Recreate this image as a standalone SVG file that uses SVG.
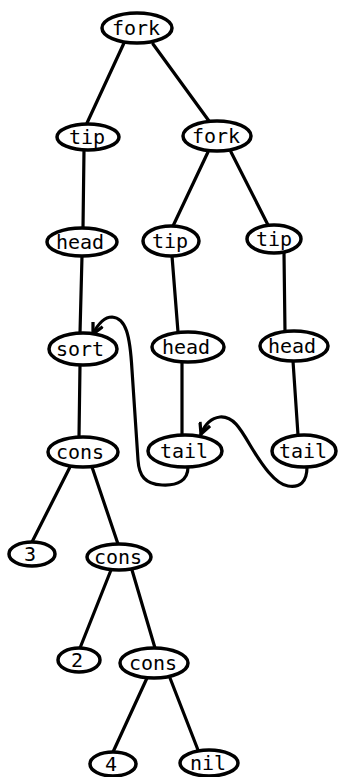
<svg xmlns="http://www.w3.org/2000/svg" width="339" height="777" viewBox="0 0 339 777">
<style>
.n ellipse{fill:#fff;stroke:#000;stroke-width:3.5}
.n text{font-family:"DejaVu Sans Mono","Liberation Mono",monospace;font-size:20px;text-anchor:middle;fill:#000}
.e line,.e path{stroke:#000;stroke-width:3.2;fill:none;stroke-linecap:round}
</style>
<defs>
<marker id="ah" viewBox="0 0 12 12" refX="11" refY="6" markerWidth="13" markerHeight="13" markerUnits="userSpaceOnUse" orient="auto">
<path d="M1,1 L11,6 L1,11" fill="none" stroke="#000" stroke-width="3"/>
</marker>
</defs>
<g class="e" id="connectors">
<line x1="124" y1="43" x2="87" y2="123"/>
<line x1="153" y1="44" x2="209" y2="121"/>
<line x1="84" y1="150" x2="83" y2="228"/>
<line x1="208" y1="152" x2="173" y2="226"/>
<line x1="231" y1="152" x2="268" y2="225"/>
<line x1="82" y1="256" x2="80" y2="333"/>
<line x1="172" y1="256" x2="178" y2="332"/>
<line x1="284" y1="253" x2="285" y2="332"/>
<line x1="80" y1="365" x2="79" y2="437"/>
<line x1="182" y1="362" x2="182" y2="435"/>
<line x1="293" y1="361" x2="298" y2="435"/>
<line x1="70" y1="467" x2="32" y2="542"/>
<line x1="92" y1="467" x2="118" y2="544"/>
<line x1="111" y1="570" x2="80" y2="648"/>
<line x1="132" y1="570" x2="155" y2="648"/>
<line x1="147" y1="678" x2="113" y2="752"/>
<line x1="170" y1="678" x2="198" y2="750"/>
<path d="M188,467 C188,480 178,486 162,485 C145,484 139,476 138,460 L132,370 C130,335 126,318 112,317 C104,317 98,324 93,334" marker-end="url(#ah)"/>
<path d="M307,467 C307,482 300,488 288,486 C275,484 262,465 250,445 C240,428 233,416 220,417 C212,418 205,424 201,434" marker-end="url(#ah)"/>
</g>
<g class="n" id="n-fork1"><ellipse cx="137" cy="28" rx="35" ry="15"/><text x="136" y="35">fork</text></g>
<g class="n" id="n-tip1"><ellipse cx="88" cy="137" rx="31" ry="13"/><text x="87" y="144">tip</text></g>
<g class="n" id="n-fork2"><ellipse cx="217" cy="136" rx="34" ry="15"/><text x="216" y="143">fork</text></g>
<g class="n" id="n-head1"><ellipse cx="82" cy="242" rx="35" ry="14"/><text x="80" y="249">head</text></g>
<g class="n" id="n-tip2"><ellipse cx="171" cy="241" rx="28" ry="15"/><text x="170" y="248">tip</text></g>
<g class="n" id="n-tip3"><ellipse cx="274" cy="239" rx="27" ry="14"/><text x="274" y="246">tip</text></g>
<g class="n" id="n-sort"><ellipse cx="83" cy="349" rx="34" ry="16"/><text x="80" y="356">sort</text></g>
<g class="n" id="n-head2"><ellipse cx="188" cy="347" rx="36" ry="15"/><text x="186" y="354">head</text></g>
<g class="n" id="n-head3"><ellipse cx="294" cy="346" rx="34" ry="15"/><text x="292" y="353">head</text></g>
<g class="n" id="n-cons1"><ellipse cx="83" cy="452" rx="35" ry="15"/><text x="80" y="459">cons</text></g>
<g class="n" id="n-tail1"><ellipse cx="185" cy="451" rx="37" ry="16"/><text x="184" y="458">tail</text></g>
<g class="n" id="n-tail2"><ellipse cx="304" cy="451" rx="32" ry="16"/><text x="303" y="458">tail</text></g>
<g class="n" id="n-3"><ellipse cx="32" cy="554" rx="23" ry="12"/><text x="30" y="561">3</text></g>
<g class="n" id="n-cons2"><ellipse cx="119" cy="557" rx="32" ry="13"/><text x="118" y="564">cons</text></g>
<g class="n" id="n-2"><ellipse cx="79" cy="660" rx="21" ry="12"/><text x="77" y="667">2</text></g>
<g class="n" id="n-cons3"><ellipse cx="154" cy="663" rx="34" ry="15"/><text x="153" y="670">cons</text></g>
<g class="n" id="n-4"><ellipse cx="113" cy="764" rx="23" ry="12"/><text x="111" y="771">4</text></g>
<g class="n" id="n-nil"><ellipse cx="209" cy="763" rx="29" ry="13"/><text x="208" y="770">nil</text></g>
</svg>
